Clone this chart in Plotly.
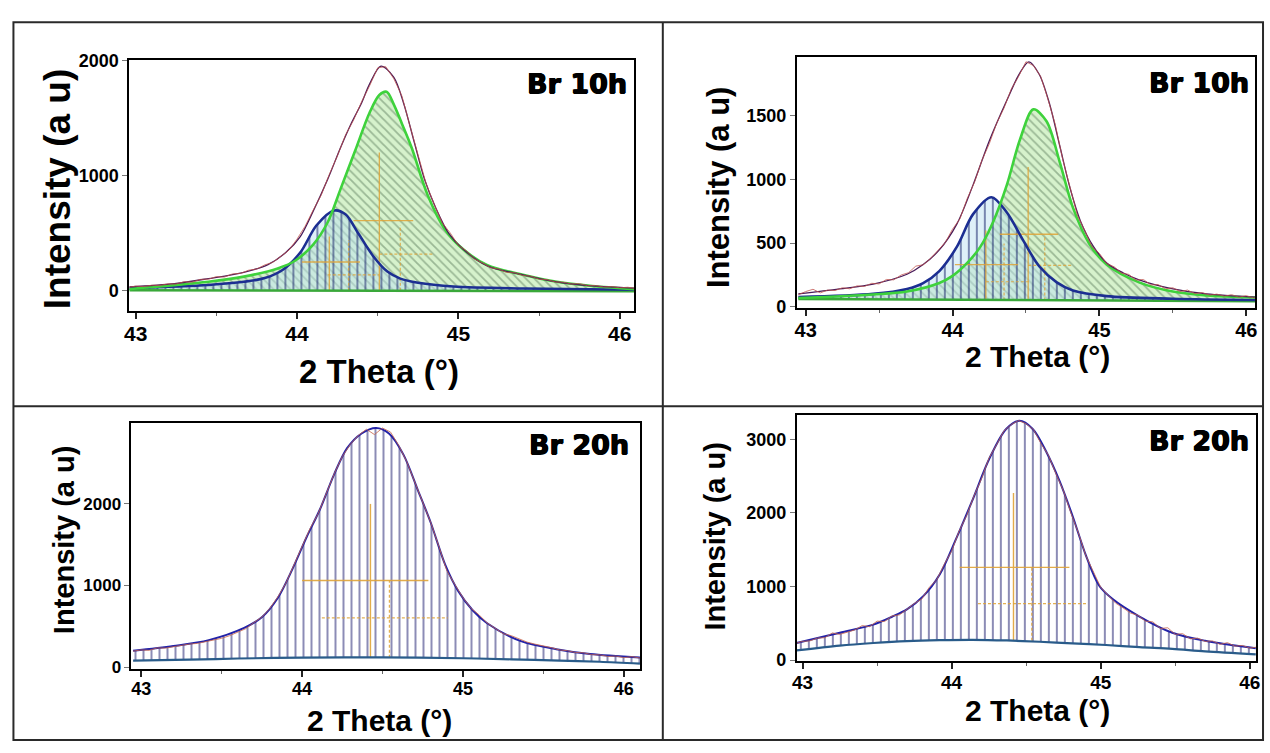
import numpy as np
import plotly.graph_objects as go

W, H = 1270, 753

# common 2-theta sampling of the measured scans (deg)
scan_2theta = np.round(np.arange(42.95, 46.1001, 0.05), 2)

# ---------------- Br 10h, left panel ----------------
a_obs = [28, 40, 36, 48, 46, 60, 58, 78, 74, 98,
         100, 122, 118, 146, 150, 178, 188, 224, 246, 300,
         352, 448, 560, 700, 830, 1010, 1170, 1350, 1480, 1640,
         1780, 1935, 1945, 1840, 1690, 1430, 1180, 930, 750, 590,
         500, 395, 345, 275, 240, 200, 188, 158, 156, 132,
         126, 100, 96, 76, 74, 58, 62, 44, 45, 32,
         36, 25, 30, 20]
a_fit_x = [42.96, 43.24, 43.45, 43.67, 43.82, 43.93, 44.02, 44.10, 44.19, 44.27, 44.34, 44.40, 44.45,
           44.52, 44.60, 44.66, 44.73, 44.79, 44.86, 44.94, 45.03, 45.18, 45.40, 45.61, 45.83, 46.09]
a_fit_y = [33, 61, 105, 160, 227, 331, 470, 690, 967, 1243, 1464, 1630, 1796,
           1950, 1851, 1630, 1271, 967, 718, 497, 359, 215, 138, 77, 41, 22]
a_main_x = [42.96, 43.45, 43.67, 43.88, 43.99, 44.10, 44.19, 44.27, 44.36, 44.45, 44.51, 44.555,
            44.60, 44.65, 44.71, 44.81, 44.92, 45.03, 45.18, 45.40, 45.61, 45.83, 46.09]
a_main_y = [14, 77, 122, 193, 262, 400, 594, 884, 1215, 1547, 1699, 1727,
            1616, 1450, 1243, 829, 525, 359, 221, 138, 77, 41, 14]
a_side_x = [42.96, 43.45, 43.67, 43.80, 43.91, 44.02, 44.12, 44.23, 44.30, 44.38, 44.47, 44.56,
            44.64, 44.75, 44.97, 45.40, 46.09]
a_side_y = [22, 50, 77, 110, 180, 331, 566, 696, 663, 497, 304, 166,
            105, 69, 36, 19, 8]
a_bg_x = [42.96, 46.09]
a_bg_y = [4, -4]
a_pos = [44.51, 44.20]
a_pos_top = [1200, 470]
a_half = [608, 249]
a_half_lo = [44.35, 44.03]
a_half_hi = [44.72, 44.39]
a_dpos = [44.64, 44.32]
a_dpos_top = [566, 440]
a_dhalf = [318, 138]
a_dhalf_lo = [44.51, 44.19]
a_dhalf_hi = [44.85, 44.51]

# ---------------- Br 10h, right panel ----------------
b_obs = [95, 120, 138, 110, 132, 128, 150, 142, 165, 160,
         185, 180, 215, 212, 250, 268, 320, 330, 380, 440,
         505, 610, 690, 850, 980, 1150, 1280, 1440, 1560, 1710,
         1810, 1925, 1895, 1810, 1630, 1430, 1160, 940, 720, 600,
         470, 420, 340, 315, 265, 255, 210, 215, 172, 175,
         142, 150, 120, 132, 104, 112, 92, 100, 84, 96,
         76, 88, 70, 84]
b_fit_x = [42.95, 43.23, 43.46, 43.69, 43.80, 43.91, 44.03, 44.14, 44.25, 44.37, 44.46, 44.52,
           44.59, 44.66, 44.73, 44.80, 44.87, 44.96, 45.05, 45.16, 45.27, 45.50, 45.73, 46.06]
b_fit_y = [102, 141, 179, 256, 332, 447, 652, 958, 1303, 1623, 1840, 1924,
           1827, 1597, 1265, 933, 677, 473, 345, 268, 212, 141, 102, 77]
b_main_x = [42.95, 43.46, 43.69, 43.91, 44.00, 44.10, 44.19, 44.28, 44.37, 44.46, 44.55,
            44.64, 44.73, 44.82, 44.93, 45.05, 45.27, 45.50, 45.73, 46.06]
b_main_y = [69, 97, 120, 187, 243, 345, 473, 677, 958, 1316, 1551,
            1457, 1137, 779, 498, 332, 192, 120, 89, 74]
b_side_x = [42.95, 43.46, 43.69, 43.80, 43.91, 44.03, 44.14, 44.265, 44.37, 44.48, 44.59,
            44.71, 44.82, 45.05, 45.50, 46.06]
b_side_y = [77, 102, 141, 187, 281, 473, 728, 861, 741, 524, 319,
            192, 128, 84, 64, 54]
b_bg_x = [42.95, 46.06]
b_bg_y = [62, 45]
b_pos = [44.515, 44.227]
b_pos_top = [1099, 600]
b_half = [570, 332]
b_half_lo = [44.322, 44.016]
b_half_hi = [44.719, 44.447]
b_dpos = [44.628, 44.351]
b_dpos_top = [562, 498]
b_dhalf = [325, 197]
b_dhalf_lo = [44.515, 44.227]
b_dhalf_hi = [44.821, 44.526]

# ---------------- Br 20h, left panel ----------------
c_obs = [195, 210, 205, 235, 232, 250, 262, 282, 290, 312,
         338, 352, 385, 425, 470, 545, 612, 720, 862, 1030,
         1250, 1480, 1700, 1880, 2130, 2370, 2580, 2730, 2840, 2915,
         2850, 2930, 2880, 2720, 2520, 2270, 2010, 1770, 1480, 1180,
         1010, 850, 720, 640, 540, 470, 410, 385, 345, 305,
         280, 262, 238, 210, 200, 178, 175, 152, 150, 130,
         135, 115, 128, 110]
c_fit_x = [42.95, 43.20, 43.42, 43.64, 43.75, 43.85, 43.94, 44.03, 44.11, 44.20, 44.28, 44.37,
           44.46, 44.54, 44.63, 44.72, 44.80, 44.89, 44.97, 45.06, 45.15, 45.36, 45.58, 45.79, 46.10]
c_fit_y = [199, 258, 330, 480, 610, 850, 1200, 1600, 1928, 2366, 2684, 2863,
           2930, 2863, 2604, 2167, 1769, 1252, 934, 696, 537, 318, 219, 159, 116]
c_bg_x = [42.95, 43.30, 43.60, 44.00, 44.50, 45.00, 45.30, 45.60, 45.85, 46.10]
c_bg_y = [80, 90, 105, 115, 118, 108, 95, 80, 65, 42]
c_pos = [44.425]
c_pos_top = [2000]
c_half = [1062]
c_half_lo = [44.00]
c_half_hi = [44.785]
c_dpos = [44.543]
c_dpos_top = [1062]
c_dhalf = [604]
c_dhalf_lo = [44.123]
c_dhalf_hi = [44.905]

# ---------------- Br 20h, right panel ----------------
d_obs = [225, 255, 262, 300, 305, 370, 350, 385, 410, 470,
         455, 530, 525, 600, 615, 690, 770, 830, 990, 1090,
         1300, 1480, 1750, 1960, 2230, 2460, 2740, 2920, 3110, 3200,
         3255, 3210, 3130, 2940, 2780, 2530, 2300, 2000, 1730, 1420,
         1200, 990, 880, 775, 710, 640, 610, 530, 520, 430,
         440, 350, 360, 290, 300, 255, 262, 215, 238, 190,
         200, 165, 178, 150]
d_fit_x = [42.96, 43.25, 43.475, 43.60, 43.70, 43.81, 43.92, 44.03, 44.14, 44.255, 44.366, 44.455,
           44.544, 44.634, 44.723, 44.812, 44.90, 44.99, 45.08, 45.26, 45.48, 45.70, 46.04]
d_fit_y = [233, 373, 483, 590, 690, 870, 1164, 1647, 2174, 2745, 3140, 3250,
           3140, 2833, 2437, 1954, 1427, 1010, 830, 593, 373, 264, 162]
d_bg_x = [42.96, 43.25, 43.475, 43.70, 43.92, 44.14, 44.37, 44.59, 44.81, 45.035, 45.26,
          45.48, 45.70, 46.04]
d_bg_y = [132, 198, 233, 259, 272, 277, 268, 250, 228, 206, 176, 154, 119, 79]
d_pos = [44.415]
d_pos_top = [2270]
d_half = [1260]
d_half_lo = [44.054]
d_half_hi = [44.79]
d_dpos = [44.538]
d_dpos_top = [1260]
d_dhalf = [768]
d_dhalf_lo = [44.177]
d_dhalf_hi = [44.912]

panel_labels = ["Br 10h", "Br 10h", "Br 20h", "Br 20h"]
x_ticks = [43, 44, 45, 46]
x_minor = [43.5, 44.5, 45.5]
y_ticks = [[0, 1000, 2000], [0, 500, 1000, 1500], [0, 1000, 2000], [0, 1000, 2000, 3000]]
x_title = "2 Theta (°)"
y_title = "Intensity (a u)"

ORANGE = "#e0a437"
FONT = "Liberation Sans, Arial, sans-serif"


def ax_ids(n):
    return ("x" if n == 1 else f"x{n}"), ("y" if n == 1 else f"y{n}")


def curve(x, y, n, color, width, shape="spline", dash="solid", **kw):
    xa, ya = ax_ids(n)
    return go.Scatter(x=x, y=y, xaxis=xa, yaxis=ya, mode="lines",
                      line=dict(color=color, width=width, shape=shape, dash=dash, smoothing=0.9),
                      hoverinfo="skip", showlegend=False, **kw)


def crosses(pos, top, half, lo, hi, base):
    xs, ys = [], []
    for c, t, h, a, b in zip(pos, top, half, lo, hi):
        xs += [c, c, None, a, b, None]
        ys += [base, t, None, h, h, None]
    return xs, ys


traces = []

# two-component fits (Br 10h)
for n, d in [(1, dict(obs=a_obs, fx=a_fit_x, fy=a_fit_y, mx=a_main_x, my=a_main_y, sx=a_side_x, sy=a_side_y,
                      bx=a_bg_x, by=a_bg_y, base=0,
                      cr=(a_pos, a_pos_top, a_half, a_half_lo, a_half_hi),
                      dc=(a_dpos, a_dpos_top, a_dhalf, a_dhalf_lo, a_dhalf_hi))),
             (2, dict(obs=b_obs, fx=b_fit_x, fy=b_fit_y, mx=b_main_x, my=b_main_y, sx=b_side_x, sy=b_side_y,
                      bx=b_bg_x, by=b_bg_y, base=50,
                      cr=(b_pos, b_pos_top, b_half, b_half_lo, b_half_hi),
                      dc=(b_dpos, b_dpos_top, b_dhalf, b_dhalf_lo, b_dhalf_hi)))]:
    traces.append(curve(d["bx"], d["by"], n, "rgba(0,0,0,0)", 0, shape="linear"))
    traces.append(curve(d["mx"], d["my"], n, "rgba(0,0,0,0)", 0, fill="tonexty",
                        fillpattern=dict(shape="\\", fgcolor="#5f7f60", bgcolor="#d6f2cc",
                                         size=6, solidity=0.3)))
    traces.append(curve(d["bx"], d["by"], n, "rgba(0,0,0,0)", 0, shape="linear"))
    traces.append(curve(d["sx"], d["sy"], n, "rgba(0,0,0,0)", 0, fill="tonexty",
                        fillpattern=dict(shape="|", fgcolor="#15206a", bgcolor="rgba(190,226,242,0.5)",
                                         size=8, solidity=0.25)))
    cx, cy = crosses(*d["cr"], d["base"])
    traces.append(curve(cx, cy, n, ORANGE, 1.3, shape="linear", opacity=0.85))
    cx, cy = crosses(*d["dc"], d["base"])
    traces.append(curve(cx, cy, n, ORANGE, 1.2, shape="linear", dash="3px,2px", opacity=0.8))
    traces.append(curve(d["bx"], d["by"], n, "#3aa83a", 2.5, shape="linear"))
    traces.append(curve(d["sx"], d["sy"], n, "#1c2f92", 2.6))
    traces.append(curve(d["mx"], d["my"], n, "#3fd23c", 2.6))
    traces.append(curve(d["fx"], d["fy"], n, "#4a1c5a", 1.3))
    traces.append(curve(list(scan_2theta), d["obs"], n, "#c0504a", 1.0, shape="linear", opacity=0.75))

# single-component fits (Br 20h)
for n, d in [(3, dict(obs=c_obs, fx=c_fit_x, fy=c_fit_y, bx=c_bg_x, by=c_bg_y, base=115,
                      cr=(c_pos, c_pos_top, c_half, c_half_lo, c_half_hi),
                      dc=(c_dpos, c_dpos_top, c_dhalf, c_dhalf_lo, c_dhalf_hi))),
             (4, dict(obs=d_obs, fx=d_fit_x, fy=d_fit_y, bx=d_bg_x, by=d_bg_y, base=265,
                      cr=(d_pos, d_pos_top, d_half, d_half_lo, d_half_hi),
                      dc=(d_dpos, d_dpos_top, d_dhalf, d_dhalf_lo, d_dhalf_hi)))]:
    traces.append(curve(d["bx"], d["by"], n, "rgba(0,0,0,0)", 0))
    traces.append(curve(d["fx"], d["fy"], n, "rgba(0,0,0,0)", 0, fill="tonexty",
                        fillpattern=dict(shape="|", fgcolor="#1a1a6e", bgcolor="rgba(255,255,255,0)",
                                         size=8, solidity=0.25)))
    cx, cy = crosses(*d["cr"], d["base"])
    traces.append(curve(cx, cy, n, ORANGE, 1.4, shape="linear", opacity=0.9))
    cx, cy = crosses(*d["dc"], d["base"])
    traces.append(curve(cx, cy, n, ORANGE, 1.3, shape="linear", dash="3px,2px", opacity=0.85))
    traces.append(curve(d["bx"], d["by"], n, "#2a5c8a", 2.2))
    traces.append(curve(d["fx"], d["fy"], n, "#2323a8", 2.0))
    traces.append(curve(list(scan_2theta), d["obs"], n, "#c8644a", 1.0, shape="linear", opacity=0.8))

fig = go.Figure(traces)


def px_x(v):
    return v / W


def px_y(v):
    return 1 - v / H


# frame of each plot in pixels: left, right, top, bottom
frames = [(125.3, 633.9, 51.7, 309.3), (797.5, 1259.0, 48.3, 306.0),
          (127.4, 639.5, 424.0, 676.5), (797.5, 1260.0, 416.0, 668.6)]
x_ranges = [[42.961, 46.091], [42.94, 46.06], [42.94, 46.10], [42.962, 46.042]]
y_ranges = [[-177, 2000], [-8, 1962], [-18, 2995], [-9, 3330]]
xtick_size = [21, 20, 18, 19]
ytick_size = [18, 18, 17, 18]

layout = dict(width=W, height=H, margin=dict(l=0, r=0, t=0, b=0),
              paper_bgcolor="white", plot_bgcolor="white", showlegend=False)

for i in range(4):
    n = i + 1
    l, r, t, b = frames[i]
    xk = "xaxis" if n == 1 else f"xaxis{n}"
    yk = "yaxis" if n == 1 else f"yaxis{n}"
    xa, ya = ax_ids(n)
    layout[xk] = dict(domain=[px_x(l), px_x(r)], range=x_ranges[i], anchor=ya,
                      tickvals=x_ticks, ticks="outside", ticklen=6, tickwidth=1.5, tickcolor="#222",
                      ticklabelstandoff=-3,
                      minor=dict(tickvals=x_minor, ticks="outside", ticklen=3, tickwidth=1, tickcolor="#666"),
                      showline=True, linewidth=2, linecolor="black", mirror=True,
                      showgrid=False, zeroline=False,
                      tickfont=dict(family=FONT, size=xtick_size[i], color="black", weight="bold"))
    layout[yk] = dict(domain=[px_y(b), px_y(t)], range=y_ranges[i], anchor=xa,
                      tickvals=y_ticks[i], ticks="outside", ticklen=5, tickwidth=1, tickcolor="#777",
                      showline=True, linewidth=2, linecolor="black", mirror=True,
                      showgrid=False, zeroline=False,
                      tickfont=dict(family=FONT, size=ytick_size[i], color="black", weight="bold"))

heavy = "0.6px 0 0 black, -0.6px 0 0 black, 0 0.5px 0 black"
ann = []
# sample labels
for (xr, yc), txt in zip([(628, 75), (1255, 74), (630, 446), (1255, 442.5)], panel_labels):
    ann.append(dict(x=px_x(xr), y=px_y(yc), xref="paper", yref="paper", text=txt, showarrow=False,
                    xanchor="right", yanchor="middle",
                    font=dict(family="DejaVu Sans, sans-serif", size=27, color="black", weight="bold",
                              shadow=heavy)))
# x axis titles
for (xc, yc, fs) in [(376.6, 371, 33), (1040, 356, 30), (377, 730, 30), (1040, 720, 30)]:
    ann.append(dict(x=px_x(xc), y=px_y(yc), xref="paper", yref="paper", text=x_title, showarrow=False,
                    xanchor="center", yanchor="middle",
                    font=dict(family=FONT, size=fs, color="black", weight="bold")))
# y axis titles
for (xc, yc, fs) in [(52.5, 184, 37), (718.5, 181.5, 31), (59, 544, 29), (715, 540, 29)]:
    ann.append(dict(x=px_x(xc), y=px_y(yc), xref="paper", yref="paper", text=y_title, showarrow=False,
                    textangle=-90, xanchor="center", yanchor="middle",
                    font=dict(family=FONT, size=fs, color="black", weight="bold")))
layout["annotations"] = ann

# outer border and panel dividers
line_style = dict(color="#2a2a2a", width=2)
layout["shapes"] = [
    dict(type="rect", xref="paper", yref="paper", x0=px_x(8.5), x1=px_x(1267), y0=px_y(750), y1=px_y(12.5),
         line=line_style),
    dict(type="line", xref="paper", yref="paper", x0=px_x(662.5), x1=px_x(662.5), y0=px_y(750), y1=px_y(12.5),
         line=line_style),
    dict(type="line", xref="paper", yref="paper", x0=px_x(8.5), x1=px_x(1267), y0=px_y(407), y1=px_y(407),
         line=line_style),
]

fig.update_layout(**layout)
fig.write_html("out.html")
